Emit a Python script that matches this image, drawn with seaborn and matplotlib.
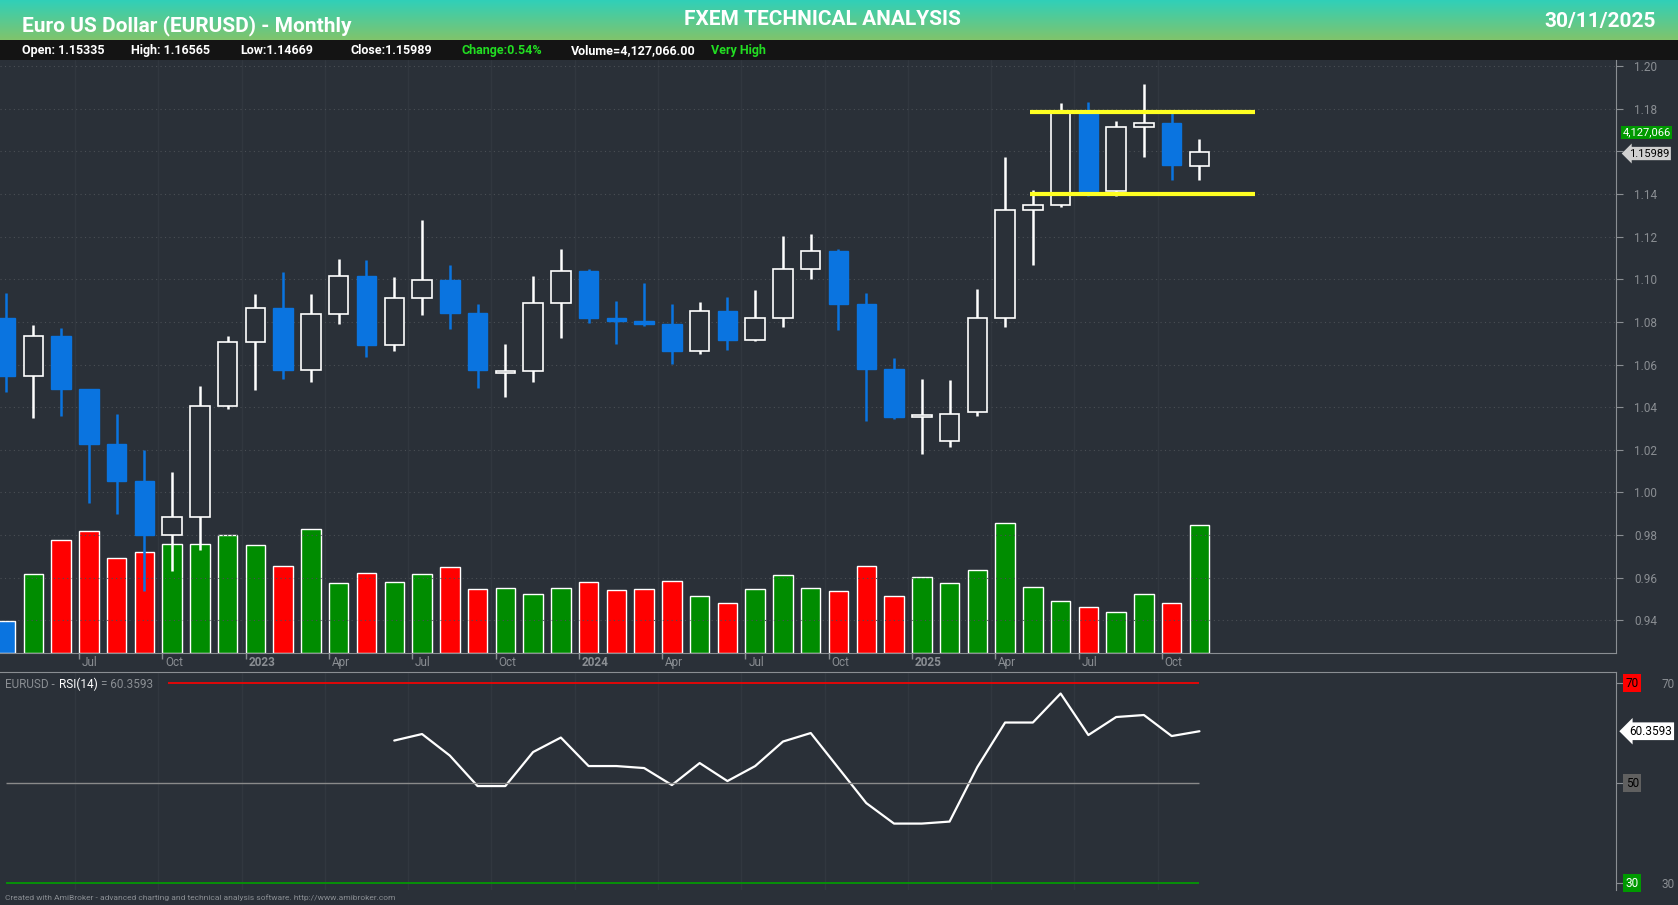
"""
EURUSD monthly candles with volume and RSI(14) - AmiBroker style
"""
import numpy as np
import pandas as pd
import matplotlib
matplotlib.use("Agg")
import matplotlib.pyplot as plt
import seaborn as sns

# Apr 2022 .. Nov 2025
months = pd.date_range("2022-04-01", "2025-11-01", freq="MS")
opens = [1.0817, 1.0545, 1.0733, 1.0484, 1.0226, 1.0054, 0.9802, 0.9883, 1.0406, 1.0705,
         1.0863, 1.0576, 1.0839, 1.1016, 1.0690, 1.0910, 1.0998, 1.0842, 1.0562, 1.0569,
         1.0889, 1.1039, 1.0819, 1.0805, 1.0790, 1.0665, 1.0849, 1.0713, 1.0818, 1.1048,
         1.1135, 1.0884, 1.0578, 1.0354, 1.0240, 1.0375, 1.0816, 1.1327, 1.1347, 1.1786,
         1.1416, 1.1713, 1.1735, 1.15335]
highs = [1.0936, 1.0787, 1.0773, 1.0486, 1.0369, 1.0198, 1.0094, 1.0497, 1.0736, 1.0929,
         1.1033, 1.0930, 1.1095, 1.1092, 1.1012, 1.1276, 1.1065, 1.0882, 1.0695, 1.1017,
         1.1140, 1.1046, 1.0898, 1.0981, 1.0885, 1.0895, 1.0916, 1.0948, 1.1202, 1.1214,
         1.1144, 1.0937, 1.0630, 1.0533, 1.0528, 1.0955, 1.1573, 1.1419, 1.1829, 1.1830,
         1.1742, 1.1918, 1.1778, 1.16565]
lows = [1.0471, 1.0349, 1.0359, 0.9952, 0.9901, 0.9536, 0.9632, 0.9730, 1.0393, 1.0482,
        1.0533, 1.0516, 1.0788, 1.0635, 1.0662, 1.0834, 1.0766, 1.0488, 1.0448, 1.0517,
        1.0724, 1.0795, 1.0695, 1.0781, 1.0601, 1.0650, 1.0668, 1.0709, 1.0778, 1.1001,
        1.0761, 1.0333, 1.0344, 1.0178, 1.0211, 1.0360, 1.0778, 1.1065, 1.1340, 1.1391,
        1.1392, 1.1574, 1.1468, 1.14669]
closes = [1.0545, 1.0733, 1.0484, 1.0226, 1.0054, 0.9802, 0.9883, 1.0406, 1.0705, 1.0863,
          1.0576, 1.0839, 1.1016, 1.0690, 1.0910, 1.0998, 1.0842, 1.0573, 1.0569, 1.0889,
          1.1039, 1.0819, 1.0805, 1.0790, 1.0665, 1.0849, 1.0713, 1.0818, 1.1048, 1.1135,
          1.0884, 1.0578, 1.0354, 1.0362, 1.0368, 1.0816, 1.1327, 1.1347, 1.1786, 1.1416,
          1.1713, 1.1735, 1.1535, 1.15989]
volumes_m = [1.01, 2.53, 3.64, 3.92, 3.05, 3.26, 3.50, 3.50, 3.81, 3.47,
             2.81, 3.99, 2.25, 2.57, 2.29, 2.53, 2.77, 2.05, 2.08, 1.91,
             2.08, 2.29, 2.01, 2.05, 2.32, 1.84, 1.60, 2.05, 2.50, 2.08,
             1.98, 2.81, 1.84, 2.46, 2.25, 2.67, 4.20, 2.12, 1.66, 1.46,
             1.32, 1.91, 1.60, 4.127066]
# RSI(14) from Jun 2023 to Nov 2025
rsi_values = [58.5, 59.8, 55.5, 49.4, 49.4, 56.2, 59.1, 53.4, 53.4, 53.0,
              49.6, 54.0, 50.4, 53.4, 58.3, 60.0, 53.0, 46.0, 41.9, 41.9,
              42.3, 53.2, 62.1, 62.1, 67.9, 59.6, 63.2, 63.6, 59.4, 60.3593]
range_levels = [1.1785, 1.1398]
price_ticks = [0.94, 0.96, 0.98, 1.00, 1.02, 1.04, 1.06, 1.08, 1.10, 1.12, 1.14, 1.16, 1.18, 1.20]

BG = "#2a3038"
BLUE = "#0a74e0"
GREY = "#8a8e93"

sns.set_style("dark", {"axes.facecolor": BG, "figure.facecolor": BG})
plt.rcParams["font.family"] = ["Roboto", "DejaVu Sans"]

fig = plt.figure(figsize=(16.78, 9.05), dpi=100)
x = np.arange(len(months))
opens, highs, lows, closes = map(np.array, (opens, highs, lows, closes))
up = closes >= opens

# header gradient
hdr = fig.add_axes([0, 0.956, 1, 0.044])
grad = np.linspace(0, 1, 50).reshape(-1, 1)
cmap = matplotlib.colors.LinearSegmentedColormap.from_list("h", ["#30d0b8", "#80c46c"])
hdr.imshow(grad, aspect="auto", cmap=cmap, extent=[0, 1, 0, 1])
hdr.set_axis_off()
hdr.text(0.013, 0.35, "Euro US Dollar (EURUSD) - Monthly", color="white", fontsize=15,
         fontweight="bold", va="center", transform=hdr.transAxes)
hdr.text(0.49, 0.5, "FXEM TECHNICAL ANALYSIS", color="white", fontsize=15,
         fontweight="bold", va="center", ha="center", transform=hdr.transAxes)
hdr.text(0.987, 0.45, "30/11/2025", color="white", fontsize=15,
         fontweight="bold", va="center", ha="right", transform=hdr.transAxes)

info = fig.add_axes([0, 0.934, 1, 0.022])
info.set_facecolor("#141414")
info.set_xticks([]); info.set_yticks([])
for s in info.spines.values():
    s.set_visible(False)
items = [(0.013, "Open: 1.15335", "white"), (0.078, "High: 1.16565", "white"),
         (0.143, "Low:1.14669", "white"), (0.209, "Close:1.15989", "white"),
         (0.275, "Change:0.54%", "#22dd22"), (0.340, "Volume=4,127,066.00", "white"),
         (0.424, "Very High", "#22dd22")]
for xx, t, c in items:
    info.text(xx, 0.45, t, color=c, fontsize=9, fontweight="bold", va="center",
              transform=info.transAxes)

xlim = (-0.2, 58)

# price pane
ax = fig.add_axes([0, 0.279, 0.963, 0.655])
ax.set_xlim(*xlim)
ax.set_ylim(0.9249, 1.2030)
axv = ax.twinx()
axv.set_ylim(0, 19.2)
vcol = ["#008c00" if u else "#ff0000" for u in up]
vcol[0] = BLUE
axv.bar(x, volumes_m, width=0.7, color=vcol, zorder=1)
axv.set_yticks([])
axv.set_zorder(0)
ax.set_zorder(1)
ax.patch.set_visible(False)
axv.set_facecolor(BG)

for q in [i for i, m in enumerate(months) if m.month in (1, 4, 7, 10)]:
    axv.axvline(q - 0.5, color="#31373f", lw=1, zorder=0)
for p in price_ticks:
    ax.axhline(p, color="#4a4f55", lw=0.8, ls=(0, (1, 3)), zorder=0)

wick_col = np.where(up, "white", BLUE)
ax.vlines(x, lows, highs, colors=wick_col, lw=1.8, zorder=2)
body_lo = np.minimum(opens, closes)
body_h = np.maximum(np.abs(closes - opens), 0.0008)
ax.bar(x[up], body_h[up], bottom=body_lo[up], width=0.7, color=BG, edgecolor="white", lw=1.2, zorder=3)
ax.bar(x[~up], body_h[~up], bottom=body_lo[~up], width=0.7, color=BLUE, edgecolor=BLUE, lw=1, zorder=3)
for lvl in range_levels:
    ax.hlines(lvl, 36.9, 45, color="#ffff22", lw=3, zorder=4)

ax.yaxis.tick_right()
ax.set_yticks(price_ticks)
# 1.16 label sits under the last-value markers
ax.set_yticklabels(["" if abs(p - 1.16) < 1e-9 else f"{p:.2f}" for p in price_ticks],
                   color=GREY, fontsize=8.5)
ax.tick_params(axis="y", direction="out", length=5, color=GREY, pad=8)
ax.set_xticks([])
for s in ax.spines.values():
    s.set_visible(False)
ax.spines["right"].set_visible(True); ax.spines["right"].set_color(GREY)
ax.spines["bottom"].set_visible(True); ax.spines["bottom"].set_color(GREY)
for s in axv.spines.values():
    s.set_visible(False)

ax.text(1.004, 1.1690, "4,127,066", transform=ax.get_yaxis_transform(), color="white",
        fontsize=8, va="center", bbox=dict(fc="#009900", ec="none", pad=1.0), clip_on=False)
ax.text(1.008, 1.1590, "1.15989", transform=ax.get_yaxis_transform(), color="black",
        fontsize=8, va="center", bbox=dict(boxstyle="larrow,pad=0.15", fc="#d0d0d0", ec="none"),
        clip_on=False)

# month labels
lab_ax = fig.add_axes([0, 0.262, 0.963, 0.017])
lab_ax.set_xlim(*xlim); lab_ax.set_ylim(0, 1)
lab_ax.set_axis_off()
for i, m in enumerate(months):
    if m.month in (1, 4, 7, 10) and i > 0:
        lab_ax.vlines(i - 0.35, 0.6, 1, color=GREY, lw=1)
        txt = str(m.year) if m.month == 1 else m.strftime("%b")
        lab_ax.text(i - 0.25, 0.35, txt, color=GREY, fontsize=8.5, va="center",
                    fontweight="bold" if m.month == 1 else "normal")

# RSI pane
ar = fig.add_axes([0, 0.017, 0.963, 0.241])
ar.set_xlim(*xlim); ar.set_ylim(28.7, 72.3)
rsi_df = pd.DataFrame({"x": x[-len(rsi_values):], "rsi": rsi_values})
sns.lineplot(data=rsi_df, x="x", y="rsi", ax=ar, color="white", lw=1.6)
for q in [i for i, m in enumerate(months) if m.month in (1, 4, 7, 10)]:
    ar.axvline(q - 0.5, color="#31373f", lw=1, zorder=0)
ar.hlines(70, 5.85, 43, color="#ff0000", lw=1.2)
ar.hlines(50, 0, 43, color="#8a8a8a", lw=1)
ar.hlines(30, 0, 43, color="#00a000", lw=1.2)
ar.set_xlabel(""); ar.set_ylabel("")
ar.set_xticks([])
ar.yaxis.tick_right()
ar.set_yticks([30, 50, 70])
ar.set_yticklabels(["30", "", "70"], color=GREY, fontsize=8.5)
ar.tick_params(axis="y", direction="out", length=5, color=GREY, pad=28)
for s in ar.spines.values():
    s.set_visible(False)
ar.spines["right"].set_visible(True); ar.spines["right"].set_color(GREY)
ar.spines["top"].set_visible(True); ar.spines["top"].set_color(GREY)
ar.text(0.003, 0.97, "EURUSD -", transform=ar.transAxes, color=GREY, fontsize=8.5, va="top")
ar.text(0.0365, 0.97, "RSI(14)", transform=ar.transAxes, color="white", fontsize=8.5, va="top")
ar.text(0.0625, 0.97, "= 60.3593", transform=ar.transAxes, color=GREY, fontsize=8.5, va="top")
yt = ar.get_yaxis_transform()
ar.text(1.006, 70, "70", transform=yt, color="black", fontsize=8.5, va="center",
        bbox=dict(fc="#ff0000", ec="none", pad=1.5), clip_on=False)
ar.text(1.006, 50, "50", transform=yt, color="black", fontsize=8.5, va="center",
        bbox=dict(fc="#606060", ec="none", pad=1.5), clip_on=False)
ar.text(1.006, 30, "30", transform=yt, color="white", fontsize=8.5, va="center",
        bbox=dict(fc="#009900", ec="none", pad=1.5), clip_on=False)
ar.text(1.008, 60.3593, "60.3593", transform=yt, color="black", fontsize=8.5, va="center",
        bbox=dict(boxstyle="larrow,pad=0.2", fc="white", ec="none"), clip_on=False)

fig.text(0.003, 0.006, "Created with AmiBroker - advanced charting and technical analysis software. http://www.amibroker.com",
         color=GREY, fontsize=6)

fig.savefig("out.png", dpi=100, facecolor=BG)
